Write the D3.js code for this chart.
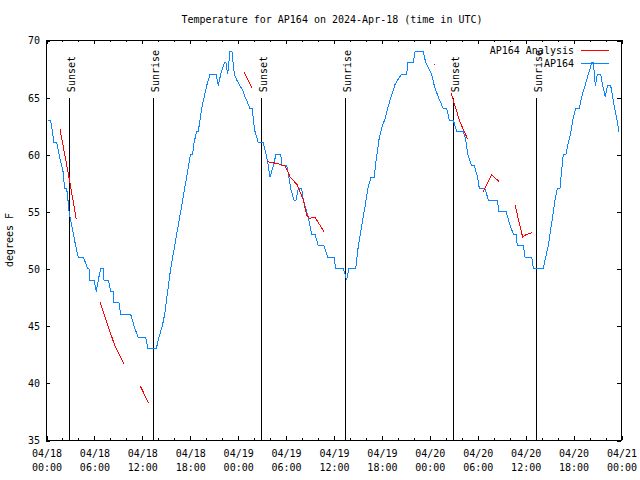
<!DOCTYPE html>
<html><head><meta charset="utf-8">
<script src="https://cdn.jsdelivr.net/npm/d3@7/dist/d3.min.js"></script>
<style>
body{margin:0;background:#fff}
svg{display:block}
text{font-family:"DejaVu Sans Mono","Liberation Mono",monospace;font-size:10px;fill:#000}
</style>
</head><body><svg id="c" width="640" height="480"></svg>
<script>
const chartTitle = "Temperature for AP164 on 2024-Apr-18 (time in UTC)";
const yAxisLabel = "degrees F";
const xMajorHours = [0,6,12,18,24,30,36,42,48,54,60,66,72];
const xMinorHours = d3.range(0,73,2);
const xTickDates = ["04/18","04/18","04/18","04/18","04/19","04/19","04/19","04/19","04/20","04/20","04/20","04/20","04/21"];
const xTickTimes = ["00:00","06:00","12:00","18:00","00:00","06:00","12:00","18:00","00:00","06:00","12:00","18:00","00:00"];
const yTickValues = [35,40,45,50,55,60,65,70];
const sunEventNames = ["Sunset","Sunrise","Sunset","Sunrise","Sunset","Sunrise"];
const sunEventHours = [2.92,13.44,26.96,37.38,51.0,61.3];
const legendNames = ["AP164 Analysis","AP164"];

// observed temperature (hours since 04/18 00:00 UTC, °F)
const obsHours = [0.25,0.58,1.0,1.34,1.63,2.13,2.34,2.59,2.75,2.88,3.71,4.05,4.63,4.97,5.18,5.38,5.47,6.01,6.3,6.55,6.84,7.14,7.26,7.81,8.1,8.39,8.51,9.14,9.35,10.6,11.02,11.52,12.48,12.77,13.81,14.15,14.57,14.86,15.61,16.87,18.1,18.37,18.53,18.87,19.07,19.49,20.12,20.54,21.29,21.58,21.87,22.33,22.54,22.75,23.04,23.29,23.58,23.88,24.29,24.71,24.92,25.13,25.54,25.84,25.96,26.17,26.59,27.21,27.55,27.76,28.05,28.46,28.8,29.39,29.55,30.14,30.34,30.64,31.05,31.3,31.59,32.01,32.22,32.64,32.89,33.27,33.68,34.1,34.81,35.27,36.06,36.27,37.23,37.65,37.94,38.78,39.11,39.53,39.94,40.36,40.7,41.11,41.28,41.7,42.03,42.45,42.86,43.28,43.7,44.12,44.54,45.17,45.29,45.99,46.21,47.25,47.55,48.3,48.62,49.12,49.75,50.17,50.5,51.0,51.42,52.26,52.55,52.8,53.3,53.63,54.05,54.26,54.97,55.39,56.51,56.72,57.6,58.02,58.52,58.85,59.02,59.77,59.98,60.82,61.02,62.27,62.57,62.9,63.32,63.74,64.03,64.36,64.49,64.78,65.11,65.4,65.74,65.95,66.32,66.78,67.07,67.49,67.91,68.33,68.54,68.79,69.04,69.46,69.71,70.04,70.29,70.71,70.96,71.21,71.5,71.75];
const obsTemps = [63,63,61,61,60,58.5,57,57,56,55,52,51,51,50.5,50,50,49,49,48,49,50,50,49,49,48,48,47,47,46,46,45,44,44,43,43,44,45,46,50,55,60,60,61,62,62,64,66,67,67,66,67,68,68,67,69,69,67,66.5,66,65.5,65,64.7,64,64,63,62,61,61,60,59.3,58,59,60,60,59,59,58.3,57,56,56,57,57,56,55,54.3,53,53,52,52,51,51,50,50,49,50,50,52,53.7,55.4,57.2,58,58,59.2,61.3,62.3,63.1,64.2,65.2,66.1,66.6,67,67,68,68,69,69,68,67,66,65,64,64,63,63,62,62,61.3,60,59,59,58,57,57,56,56,55,55,54,53,53,52,52,51,51,50,50,51,52,54,56,57,57,58,60,60,61,62,63,64,64,65,66,67,68,68,66,67,67,66,65,66,66,65,64,63,62];

// analysis segments: [hour, °F]
const analysisSegments = [
  [[1.75,62.2],[2.8,58.3],[3.8,54.3]],
  [[6.76,47.05],[8.64,43.2],[9.81,41.6]],
  [[11.81,39.72],[12.86,38.21]],
  [[24.83,67.17],[25.84,65.77]],
  [[27.72,59.36],[28.8,59.21],[29.93,59.0],[30.55,58.04],[31.47,57.31],[32.22,56.0],[32.64,54.69],[32.97,54.4],[33.68,54.49],[34.81,53.23]],
  [[48.67,67.9],[48.76,67.85]],
  [[50.71,65.39],[51.8,62.9],[52.8,61.31]],
  [[54.76,56.73],[55.81,58.19],[56.76,57.6]],
  [[58.73,55.56],[59.69,52.73],[59.9,52.9],[60.82,53.14]]
];

const W=640,H=480, L=46, R=621, T=40, B=440;
const svg = d3.select("#c");
const x = d3.scaleLinear().domain([0,72]).range([L,R]);
const y = d3.scaleLinear().domain([35,70]).range([B,T]);
const blue = "#0a84ff", red = "#ff0000";

svg.append("rect").attr("width",W).attr("height",H).attr("fill","#fff");

// title
svg.append("text").attr("x",332).attr("y",23).attr("text-anchor","middle").text(chartTitle);
// y label
svg.append("text").attr("transform","translate(13,240) rotate(-90)").attr("text-anchor","middle").text(yAxisLabel);

function styleAxis(g){
  g.select(".domain").remove();
  g.selectAll(".tick line").attr("stroke","#000").attr("shape-rendering","crispEdges");
}

// bottom axes
const gb = svg.append("g").attr("transform",`translate(0.5,${B})`)
  .call(d3.axisBottom(x).tickValues(xMajorHours).tickSize(-4).tickFormat(""));
styleAxis(gb);
gb.selectAll(".tick text").remove();
gb.selectAll(".tick").each(function(d,i){
  const t = d3.select(this).append("text").attr("text-anchor","middle").attr("fill","#000").attr("stroke","none")
    .style("font-family",'"DejaVu Sans Mono",monospace').style("font-size","10px");
  t.append("tspan").attr("x",0).attr("y",17).text(xTickDates[i]);
  t.append("tspan").attr("x",0).attr("y",31).text(xTickTimes[i]);
});
const gbm = svg.append("g").attr("transform",`translate(0.5,${B})`)
  .call(d3.axisBottom(x).tickValues(xMinorHours.filter(h=>h%6)).tickSize(-2).tickFormat(""));
styleAxis(gbm);
// top axes
const gt = svg.append("g").attr("transform",`translate(0.5,${T})`)
  .call(d3.axisTop(x).tickValues(xMajorHours).tickSize(-4).tickFormat(""));
styleAxis(gt);
const gtm = svg.append("g").attr("transform",`translate(0.5,${T})`)
  .call(d3.axisTop(x).tickValues(xMinorHours.filter(h=>h%6)).tickSize(-2).tickFormat(""));
styleAxis(gtm);
// left axis
const gl = svg.append("g").attr("transform",`translate(${L},0.5)`)
  .call(d3.axisLeft(y).tickValues(yTickValues).tickSize(-4).tickPadding(6).tickFormat(d3.format("d")));
styleAxis(gl);
gl.selectAll(".tick text").attr("fill","#000").attr("x",-6).attr("dy","0.34em")
  .style("font-family",'"DejaVu Sans Mono",monospace').style("font-size","10px");
// right axis
const gr = svg.append("g").attr("transform",`translate(${R},0.5)`)
  .call(d3.axisRight(y).tickValues(yTickValues).tickSize(-4).tickFormat(""));
styleAxis(gr);
gr.selectAll(".tick text").remove();

// frame
svg.append("rect").attr("x",L+0.5).attr("y",T+0.5).attr("width",R-L).attr("height",B-T)
  .attr("fill","none").attr("stroke","#000").attr("shape-rendering","crispEdges");

// sun events
sunEventHours.forEach((h,i)=>{
  const px = Math.round(x(h))+0.5;
  svg.append("line").attr("x1",px).attr("x2",px).attr("y1",y(65)+1).attr("y2",B)
    .attr("stroke","#000").attr("shape-rendering","crispEdges");
  svg.append("text").attr("transform",`translate(${px+5},${y(65)-5}) rotate(-90)`)
    .attr("text-anchor","start").text(sunEventNames[i]);
});

// observed line
const line = d3.line().x(d=>x(d[0])).y(d=>y(d[1]));
const obs = obsHours.map((h,i)=>[h,obsTemps[i]]);
svg.append("path").datum(obs).attr("d",line).attr("fill","none").attr("stroke",blue)
  .attr("stroke-width",1).attr("shape-rendering","crispEdges");

// analysis segments
analysisSegments.forEach(seg=>{
  svg.append("path").datum(seg).attr("d",line).attr("fill","none").attr("stroke",red)
    .attr("stroke-width",1).attr("shape-rendering","crispEdges");
});

// legend
const legColors=[red,blue], legY=[50,63];
legendNames.forEach((n,i)=>{
  svg.append("text").attr("x",574).attr("y",legY[i]+4).attr("text-anchor","end").text(n);
  svg.append("line").attr("x1",581).attr("x2",609).attr("y1",legY[i]+0.5).attr("y2",legY[i]+0.5)
    .attr("stroke",legColors[i]).attr("stroke-width",1).attr("shape-rendering","crispEdges");
});
</script>
</body></html>
